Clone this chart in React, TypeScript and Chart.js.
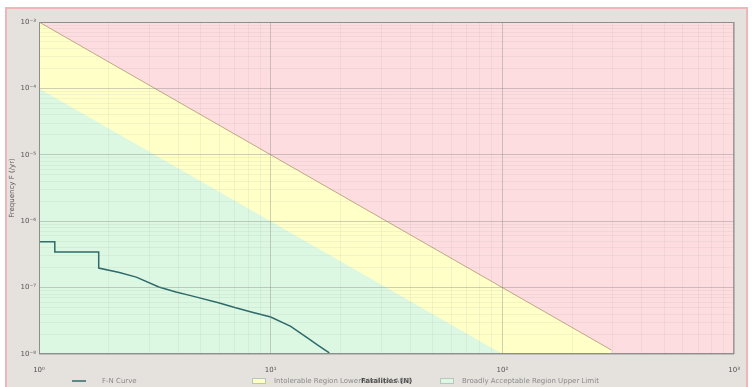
import React, { useEffect, useRef } from "react";
import { Chart, registerables } from "chart.js";

Chart.register(...registerables);

// ---- data ----
const curveN = [1, 1.17, 1.17, 1.81, 1.81, 2.2, 2.63, 3.29, 3.9, 4.56, 5.95, 7.0, 8.24, 10.0, 12.2, 14.4, 15.9, 17.9];
const curveF = [4.9e-7, 4.9e-7, 3.44e-7, 3.44e-7, 1.97e-7, 1.7e-7, 1.44e-7, 1.02e-7, 8.6e-8, 7.5e-8, 5.9e-8, 5.0e-8, 4.3e-8, 3.6e-8, 2.6e-8, 1.75e-8, 1.37e-8, 1.04e-8];

const upperN = [1, 10, 100, 295];
const upperF = [1e-3, 1e-5, 1e-7, 1.15e-8];

const lowerN = [1, 10, 100];
const lowerF = [1e-4, 1e-6, 1e-8];

const xTickValues = [1, 10, 100, 1000];
const xTickLabels = ["10⁰", "10¹", "10²", "10³"];
const yTickValues = [1e-8, 1e-7, 1e-6, 1e-5, 1e-4, 1e-3];
const yTickLabels = ["10⁻⁸", "10⁻⁷", "10⁻⁶", "10⁻⁵", "10⁻⁴", "10⁻³"];

const seriesLabels = ["F-N Curve", "Intolerable Region Lower Limit (ALARP)", "Broadly Acceptable Region Upper Limit"];
const xTitle = "Fatalities (N)";
const yTitle = "Frequency F (/yr)";

const FONT = "'DejaVu Sans', 'Liberation Sans', sans-serif";

function withMinors(majors: number[]) {
  const out: number[] = [];
  for (let i = 0; i < majors.length; i++) {
    out.push(majors[i]);
    if (i < majors.length - 1) {
      for (let k = 2; k <= 9; k++) out.push(majors[i] * k);
    }
  }
  return out;
}

function labelFor(values: number[], labels: string[], v: number) {
  for (let i = 0; i < values.length; i++) {
    if (Math.abs(Math.log10(v) - Math.log10(values[i])) < 1e-6) return labels[i];
  }
  return "";
}

function isMajor(values: number[], v: number) {
  return values.some((m) => Math.abs(Math.log10(v) - Math.log10(m)) < 1e-6);
}

export default function App() {
  const ref = useRef<HTMLCanvasElement | null>(null);

  useEffect(() => {
    const canvas = ref.current;
    if (!canvas) return;

    const framePlugin = {
      id: "frame",
      beforeDraw(chart: any) {
        const { ctx, chartArea } = chart;
        ctx.save();
        ctx.fillStyle = "#ffffff";
        ctx.fillRect(0, 0, chart.width, chart.height);
        ctx.fillStyle = "#e5e2de";
        ctx.fillRect(6, 8, 741, 390);
        ctx.strokeStyle = "#f0b4b9";
        ctx.lineWidth = 2;
        ctx.strokeRect(6, 8, 741, 390);
        ctx.fillStyle = "#fddde0";
        ctx.fillRect(chartArea.left, chartArea.top, chartArea.right - chartArea.left, chartArea.bottom - chartArea.top);
        ctx.restore();
      },
      afterDraw(chart: any) {
        const { ctx, chartArea } = chart;
        ctx.save();
        ctx.strokeStyle = "#8e8e8e";
        ctx.lineWidth = 1;
        ctx.strokeRect(chartArea.left + 0.5, chartArea.top + 0.5, chartArea.right - chartArea.left - 1, chartArea.bottom - chartArea.top - 1);
        // legend
        const y = 381;
        const xs = [72, 252, 440];
        ctx.font = `7px ${FONT}`;
        ctx.textBaseline = "middle";
        chart.data.datasets.forEach((ds: any, i: number) => {
          const x = xs[i];
          if (i === 0) {
            ctx.strokeStyle = ds.borderColor;
            ctx.lineWidth = 1.5;
            ctx.beginPath();
            ctx.moveTo(x, y);
            ctx.lineTo(x + 14, y);
            ctx.stroke();
          } else {
            ctx.fillStyle = ds.backgroundColor;
            ctx.fillRect(x, y - 3, 14, 6);
            ctx.strokeStyle = "#b9c6c0";
            ctx.lineWidth = 1;
            ctx.strokeRect(x + 0.5, y - 2.5, 13, 5);
          }
          ctx.fillStyle = "#8a8a8a";
          ctx.fillText(ds.label, x + (i === 0 ? 30 : 22), y);
        });
        ctx.restore();
      },
    };

    const gridColor = (majors: number[]) => (ctx: any) =>
      ctx.tick && isMajor(majors, ctx.tick.value) ? "rgba(130,130,130,0.38)" : "rgba(130,130,130,0.09)";

    const chart = new Chart(canvas, {
      type: "line",
      data: {
        datasets: [
          {
            label: seriesLabels[0],
            data: curveN.map((n, i) => ({ x: n, y: curveF[i] })),
            borderColor: "#2e6a6a",
            backgroundColor: "#2e6a6a",
            borderWidth: 1.5,
            pointRadius: 0,
            fill: false,
            order: 1,
          },
          {
            label: seriesLabels[1],
            data: upperN.map((n, i) => ({ x: n, y: upperF[i] })),
            borderColor: "rgba(185,160,125,0.9)",
            backgroundColor: "#ffffc8",
            borderWidth: 1,
            pointRadius: 0,
            fill: "start",
            order: 3,
          },
          {
            label: seriesLabels[2],
            data: lowerN.map((n, i) => ({ x: n, y: lowerF[i] })),
            borderColor: "rgba(0,0,0,0)",
            backgroundColor: "#dcf8e2",
            borderWidth: 0,
            pointRadius: 0,
            fill: "start",
            order: 2,
          },
        ],
      },
      options: {
        responsive: false,
        animation: false,
        events: [],
        layout: { padding: { left: 0, right: 12, top: 22, bottom: 0 } },
        plugins: {
          legend: { display: false },
          tooltip: { enabled: false },
        },
        scales: {
          x: {
            type: "logarithmic",
            min: 1,
            max: 1000,
            afterBuildTicks: (scale: any) => {
              scale.ticks = withMinors(xTickValues).map((v) => ({ value: v }));
            },
            afterFit: (scale: any) => {
              scale.height = 33;
            },
            grid: {
              z: 1,
              drawTicks: false,
              color: gridColor(xTickValues),
            },
            border: { display: false },
            ticks: {
              autoSkip: false,
              maxRotation: 0,
              padding: 12,
              color: "#555",
              font: { size: 7, family: FONT },
              callback: (v: any) => labelFor(xTickValues, xTickLabels, Number(v)),
            },
            title: {
              display: true,
              text: xTitle,
              color: "#444",
              font: { size: 7, family: FONT, weight: "bold" },
              padding: { top: 0, bottom: 2 },
            },
          },
          y: {
            type: "logarithmic",
            min: 1e-8,
            max: 1e-3,
            afterBuildTicks: (scale: any) => {
              scale.ticks = withMinors(yTickValues).map((v) => ({ value: v }));
            },
            afterFit: (scale: any) => {
              scale.width = 39;
            },
            grid: {
              z: 1,
              drawTicks: false,
              color: gridColor(yTickValues),
            },
            border: { display: false },
            ticks: {
              autoSkip: false,
              padding: 3,
              color: "#555",
              font: { size: 7, family: FONT },
              callback: (v: any) => labelFor(yTickValues, yTickLabels, Number(v)),
            },
            title: {
              display: true,
              text: yTitle,
              color: "#555",
              font: { size: 7, family: FONT },
              padding: { top: 8, bottom: 0 },
            },
          },
        },
      },
      plugins: [framePlugin],
    } as any);

    return () => chart.destroy();
  }, []);

  return (
    <div style={{ position: "fixed", left: 0, top: 0, width: 752, height: 387 }}>
      <canvas ref={ref} width={752} height={387} style={{ width: 752, height: 387, display: "block" }} />
    </div>
  );
}
